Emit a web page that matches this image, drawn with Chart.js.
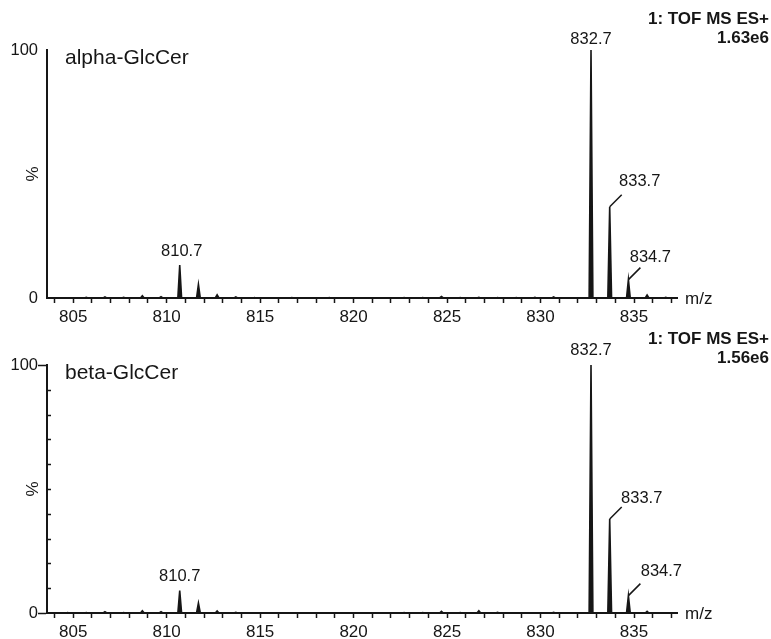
<!DOCTYPE html>
<html>
<head>
<meta charset="utf-8">
<script src="https://cdn.jsdelivr.net/npm/chart.js@4.4.0/dist/chart.umd.min.js"></script>
<style>
body { margin: 0; background: #fff; }
#wrap { position: relative; width: 771px; height: 639px; }
#wrap canvas { position: absolute; left: 0; }
#alphaChart { top: 0; }
#betaChart { top: 320px; }
</style>
</head>
<body>
<div id="wrap">
  <canvas id="alphaChart" width="771" height="340"></canvas>
  <canvas id="betaChart" width="771" height="319"></canvas>
</div>
<script>
// ---------- data ----------
const mzMin = 803.6
const mzMax = 837.3

// alpha-GlcCer spectrum (m/z, relative intensity %)
const alphaMz  = [805.7, 806.7, 807.7, 808.7, 809.7, 810.7, 811.7, 812.7, 813.7, 814.7, 816.7, 818.7,
                  822.7, 823.7, 824.7, 825.7, 826.7, 827.7, 828.7, 829.7, 830.7, 832.7, 833.7, 834.7, 835.7, 836.7]
const alphaPct = [0.3, 0.4, 0.3, 0.9, 0.5, 13.3, 5.5, 1.3, 0.4, 0.2, 0.2, 0.2,
                  0.2, 0.2, 0.6, 0.2, 0.3, 0.2, 0.2, 0.3, 0.4, 100, 36.8, 7.4, 1.2, 0.3]

// beta-GlcCer spectrum
const betaMz  = [804.7, 805.7, 806.7, 807.7, 808.7, 809.7, 810.7, 811.7, 812.7, 813.7,
                 822.7, 823.7, 824.7, 825.7, 826.7, 827.7, 830.7, 832.7, 833.7, 834.7, 835.7]
const betaPct = [0.2, 0.2, 0.5, 0.2, 0.9, 0.5, 9.0, 4.0, 0.8, 0.3,
                 0.2, 0.2, 0.7, 0.2, 0.9, 0.3, 0.3, 100, 37.9, 7.0, 0.7]

const labeledMz = [810.7, 832.7, 833.7, 834.7]
const alphaScale = '1.63e6'
const betaScale = '1.56e6'

// ---------- helpers ----------
const ink = '#161616'
const font = '"Liberation Sans", Arial, sans-serif'
const halfWidth = 0.1

function buildProfile(mz, pct) {
    const pts = [{x: mzMin, y: 0}]
    mz.forEach((m, i) => {
        pts.push({x: m - halfWidth, y: 0})
        pts.push({x: m, y: pct[i]})
        pts.push({x: m + halfWidth, y: 0})
    })
    pts.push({x: mzMax, y: 0})
    return pts
}

const annotate = {
    id: 'annotate',
    afterDraw(chart, args, opts) {
        const ctx = chart.ctx
        const area = chart.chartArea
        const x = chart.scales.x
        const y = chart.scales.y
        ctx.save()
        ctx.fillStyle = ink
        ctx.strokeStyle = ink

        // inner y ticks
        if (opts.innerTicks) {
            ctx.lineWidth = 1.5
            for (let v = 10; v < 100; v += 10) {
                const py = Math.round(y.getPixelForValue(v)) + 0.5
                ctx.beginPath()
                ctx.moveTo(area.left, py)
                ctx.lineTo(area.left + 4, py)
                ctx.stroke()
            }
        }

        // panel name
        ctx.font = '21px ' + font
        ctx.textAlign = 'left'
        ctx.textBaseline = 'alphabetic'
        ctx.fillText(opts.name, 65, area.top + 14)

        // instrument header
        ctx.font = 'bold 17px ' + font
        ctx.textAlign = 'right'
        ctx.textBaseline = 'middle'
        ctx.fillText('1: TOF MS ES+', 769, opts.headY)
        ctx.fillText(opts.scaleText, 769, opts.headY + 19)

        // axis names
        ctx.font = '17px ' + font
        ctx.save()
        ctx.translate(33, (area.top + area.bottom) / 2)
        ctx.rotate(-Math.PI / 2)
        ctx.textAlign = 'center'
        ctx.fillText('%', 0, 0)
        ctx.restore()
        ctx.textAlign = 'left'
        ctx.fillText('m/z', 685, area.bottom + 1)

        // peak labels
        ctx.font = '16.5px ' + font
        ctx.textAlign = 'center'
        ctx.lineWidth = 1.5
        opts.labels.forEach(l => {
            const i = opts.mz.indexOf(l.mz)
            const px = x.getPixelForValue(l.mz)
            const py = y.getPixelForValue(opts.pct[i])
            if (l.lead) {
                ctx.beginPath()
                ctx.moveTo(px, py)
                ctx.lineTo(px + 12, py - 12)
                ctx.stroke()
            }
            ctx.fillText(l.mz.toFixed(1), px + l.dx, py + l.dy)
        })
        ctx.restore()
    }
}

function makeChart(id, mz, pct, cfg) {
    const ctx = document.getElementById(id).getContext('2d')
    return new Chart(ctx, {
        type: 'line',
        data: {
            datasets: [{
                data: buildProfile(mz, pct),
                borderColor: ink,
                backgroundColor: ink,
                borderWidth: 1.6,
                pointRadius: 0,
                fill: 'origin',
                tension: 0
            }]
        },
        options: {
            responsive: false,
            animation: false,
            devicePixelRatio: 1,
            layout: { padding: { top: cfg.top, right: 94, left: 0, bottom: 0 } },
            plugins: {
                legend: { display: false },
                tooltip: { enabled: false },
                annotate: {
                    name: cfg.name,
                    scaleText: cfg.scaleText,
                    headY: cfg.headY,
                    innerTicks: cfg.innerTicks,
                    mz: mz,
                    pct: pct,
                    labels: cfg.labels
                }
            },
            scales: {
                x: {
                    type: 'linear',
                    min: mzMin,
                    max: mzMax,
                    afterFit: s => { s.height = cfg.xHeight },
                    border: { color: ink, width: 2 },
                    grid: { drawOnChartArea: false, drawTicks: true, tickLength: 5, tickColor: ink, tickWidth: 1.5 },
                    ticks: {
                        stepSize: 1,
                        includeBounds: false,
                        autoSkip: false,
                        maxRotation: 0,
                        padding: 4,
                        color: ink,
                        font: { family: font, size: 17 },
                        callback: v => (Math.abs(v % 5) < 1e-6 ? v : '')
                    }
                },
                y: {
                    min: 0,
                    max: 100,
                    afterFit: s => { s.width = 47 },
                    border: { color: ink, width: 2 },
                    grid: {
                        drawOnChartArea: false,
                        drawTicks: cfg.innerTicks,
                        tickLength: 9,
                        tickWidth: 1.5,
                        tickColor: c => (c.tick && (c.tick.value === 0 || c.tick.value === 100) ? ink : 'rgba(0,0,0,0)')
                    },
                    ticks: {
                        stepSize: cfg.innerTicks ? 10 : 100,
                        padding: cfg.innerTicks ? 0 : 9,
                        color: ink,
                        font: { family: font, size: 16.5 },
                        callback: v => (v === 0 || v === 100 ? v : '')
                    }
                }
            }
        },
        plugins: [annotate]
    })
}

makeChart('alphaChart', alphaMz, alphaPct, {
    name: 'alpha-GlcCer', scaleText: alphaScale, headY: 19, top: 50, xHeight: 42, innerTicks: false,
    labels: [
        { mz: labeledMz[0], dx: 2, dy: -14 },
        { mz: labeledMz[1], dx: 0, dy: -11 },
        { mz: labeledMz[2], dx: 30, dy: -25, lead: true },
        { mz: labeledMz[3], dx: 22, dy: -22, lead: true }
    ]
})

makeChart('betaChart', betaMz, betaPct, {
    name: 'beta-GlcCer', scaleText: betaScale, headY: 19, top: 45, xHeight: 26, innerTicks: true,
    labels: [
        { mz: labeledMz[0], dx: 0, dy: -14 },
        { mz: labeledMz[1], dx: 0, dy: -15 },
        { mz: labeledMz[2], dx: 32, dy: -21, lead: true },
        { mz: labeledMz[3], dx: 33, dy: -24, lead: true }
    ]
})
</script>
</body>
</html>
